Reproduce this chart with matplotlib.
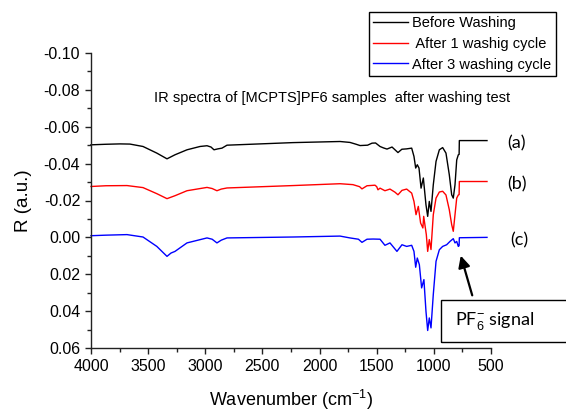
import matplotlib
matplotlib.use("Agg")
import matplotlib.pyplot as plt
from matplotlib.patches import Rectangle, FancyArrowPatch
from matplotlib.ticker import MultipleLocator, FixedLocator

plt.rcParams['font.family'] = ['Liberation Sans', 'DejaVu Sans']
plt.rcParams['mathtext.fontset'] = 'custom'
plt.rcParams['mathtext.rm'] = 'Liberation Sans'
plt.rcParams['mathtext.it'] = 'Liberation Sans:italic'

# ---------------- data ----------------
wn_a = [4000, 3870, 3746, 3659, 3545, 3424, 3335, 3300, 3265, 3160, 3046, 2985, 2950, 2924,
        2890, 2854, 2810, 2521, 2232, 1821, 1734, 1680, 1646, 1580, 1541, 1510, 1471, 1440,
        1410, 1366, 1340, 1314, 1280, 1238, 1194, 1174, 1159, 1145, 1130, 1112, 1092, 1069,
        1054, 1040, 1025, 1005, 981, 952, 923, 894, 865, 844, 830, 815, 800, 786, 779, 777, 535]
r_a = [-0.0502, -0.0505, -0.0507, -0.0506, -0.0493, -0.0457, -0.0426, -0.0437, -0.0448, -0.0475,
       -0.0493, -0.0497, -0.0490, -0.0475, -0.0480, -0.0484, -0.0500, -0.0507, -0.0514, -0.0520,
       -0.0515, -0.0505, -0.0498, -0.0500, -0.0511, -0.0512, -0.0493, -0.0485, -0.0479, -0.0490,
       -0.0475, -0.0460, -0.0478, -0.0480, -0.0484, -0.0439, -0.0376, -0.0394, -0.0376, -0.0267,
       -0.0322, -0.0177, -0.0114, -0.0195, -0.0141, -0.0285, -0.0412, -0.0475, -0.0487, -0.0457,
       -0.0340, -0.0231, -0.0213, -0.0285, -0.0420, -0.0448, -0.0450, -0.0525, -0.0525]

wn_b = [4000, 3870, 3685, 3545, 3424, 3335, 3300, 3265, 3160, 2985, 2940, 2898, 2860, 2810,
        2232, 1821, 1708, 1650, 1629, 1585, 1515, 1500, 1489, 1471, 1428, 1384, 1340, 1314,
        1279, 1238, 1194, 1174, 1156, 1136, 1116, 1096, 1089, 1066, 1054, 1040, 1025, 1005,
        981, 952, 923, 894, 865, 844, 830, 815, 800, 786, 779, 777, 535]
r_b = [-0.0276, -0.0280, -0.0281, -0.0270, -0.0237, -0.0210, -0.0218, -0.0226, -0.0253, -0.0271,
       -0.0265, -0.0253, -0.0262, -0.0268, -0.0281, -0.0291, -0.0286, -0.0275, -0.0263, -0.0280,
       -0.0283, -0.0275, -0.0258, -0.0267, -0.0253, -0.0262, -0.0245, -0.0231, -0.0255, -0.0262,
       -0.0240, -0.0195, -0.0123, -0.0168, -0.0078, -0.0051, -0.0114, -0.0015, 0.0076, 0.0012,
       0.0066, -0.0123, -0.0213, -0.0246, -0.0250, -0.0230, -0.0150, -0.0069, -0.0033, -0.0123,
       -0.0213, -0.0230, -0.0232, -0.0303, -0.0303]

wn_c = [4000, 3870, 3685, 3545, 3424, 3335, 3300, 3265, 3160, 2985, 2940, 2898, 2860, 2810,
        2232, 1821, 1734, 1660, 1629, 1585, 1532, 1471, 1428, 1384, 1323, 1279, 1238, 1194,
        1174, 1159, 1145, 1127, 1107, 1087, 1069, 1054, 1040, 1025, 1005, 981, 952, 923,
        888, 859, 830, 815, 800, 786, 779, 777, 535]
r_c = [-0.0009, -0.0012, -0.0015, -0.0002, 0.0049, 0.0103, 0.0085, 0.0076, 0.0030, 0.0003,
       0.0010, 0.0030, 0.0015, 0.0003, -0.0002, -0.0007, 0.0003, 0.0010, 0.0027, 0.0010,
       0.0009, 0.0010, 0.0043, 0.0030, 0.0076, 0.0040, 0.0049, 0.0043, 0.0076, 0.0162,
       0.0112, 0.0148, 0.0274, 0.0229, 0.0401, 0.0505, 0.0437, 0.0491, 0.0310, 0.0130,
       0.0067, 0.0049, 0.0040, 0.0022, 0.0007, 0.0030, 0.0022, 0.0049, 0.0045, 0.0002, 0.0000]

series_labels = ['Before Washing', ' After 1 washig cycle', 'After 3 washing cycle']
series_colors = ['black', 'red', 'blue']
curve_tags = ['(a)', '(b)', '(c)']
x_ticks = [4000, 3500, 3000, 2500, 2000, 1500, 1000, 500]
y_ticks = [-0.10, -0.08, -0.06, -0.04, -0.02, 0.00, 0.02, 0.04, 0.06]

# ---------------- figure ----------------
fig = plt.figure(figsize=(5.66, 4.13), dpi=100)
ax = fig.add_axes([91/566, 1-348/413, 400/566, 295/413])

for wn, r, lab, col in zip([wn_a, wn_b, wn_c], [r_a, r_b, r_c], series_labels, series_colors):
    ax.plot(wn, r, color=col, lw=1.0, label=lab, clip_on=False)

ax.set_xlim(4000, 500)
ax.set_ylim(0.06, -0.10)
ax.xaxis.set_major_locator(FixedLocator(x_ticks))
ax.xaxis.set_minor_locator(MultipleLocator(250))
ax.yaxis.set_major_locator(FixedLocator(y_ticks))
ax.yaxis.set_minor_locator(MultipleLocator(0.01))
ax.set_yticklabels([f"{v:.2f}" for v in y_ticks])
ax.set_xticklabels([str(v) for v in x_ticks])

for s in ['top', 'right']:
    ax.spines[s].set_visible(False)
for s in ['left', 'bottom']:
    ax.spines[s].set_linewidth(1.0)
    ax.spines[s].set_color('#222222')
ax.tick_params(which='major', direction='out', length=4.3, width=1.0, labelsize=11.5,
               color='#222222', pad=3.5)
ax.tick_params(which='minor', direction='out', length=2.6, width=1.0, color='#222222')

ax.set_xlabel('Wavenumber (cm$^{-1}$)', fontsize=13)
ax.set_ylabel('R (a.u.)', fontsize=13.5)
ax.xaxis.set_label_coords(0.5, -0.136)
ax.yaxis.set_label_coords(-0.148, 0.5)

fig.text(332/566, 1-98/413, 'IR spectra of [MCPTS]PF6 samples  after washing test',
         fontsize=10.5, ha='center', va='center')

leg = fig.legend(loc='upper right', bbox_to_anchor=(556/566, 1-12/413), fontsize=10.5,
                 frameon=True, fancybox=False, edgecolor='black', framealpha=1,
                 handlelength=2.4, handletextpad=0.3, labelspacing=0.45, borderpad=0.3,
                 borderaxespad=0)
leg.get_frame().set_linewidth(1.0)

tag_pos = [(517, 143), (517, 184), (519, 240)]
for t, (px, py) in zip(curve_tags, tag_pos):
    fig.text(px/566, 1-py/413, t, fontsize=13, family='Lato', ha='center', va='center')

fig.patches.append(Rectangle((441/566, 1-342/413), 0.3, 42/413, transform=fig.transFigure,
                             fill=False, edgecolor='black', lw=1.0, clip_on=False))
fig.text(455/566, 1-321/413, 'PF$_6^{-}$ signal', fontsize=13, family='Lato', ha='left', va='center')
arr = FancyArrowPatch((473/566, 1-298/413), (460/566, 1-253/413), transform=fig.transFigure,
                      arrowstyle='-|>,head_length=7,head_width=3.5', lw=1.6, color='black')
fig.patches.append(arr)

fig.savefig('out.png', dpi=100)
